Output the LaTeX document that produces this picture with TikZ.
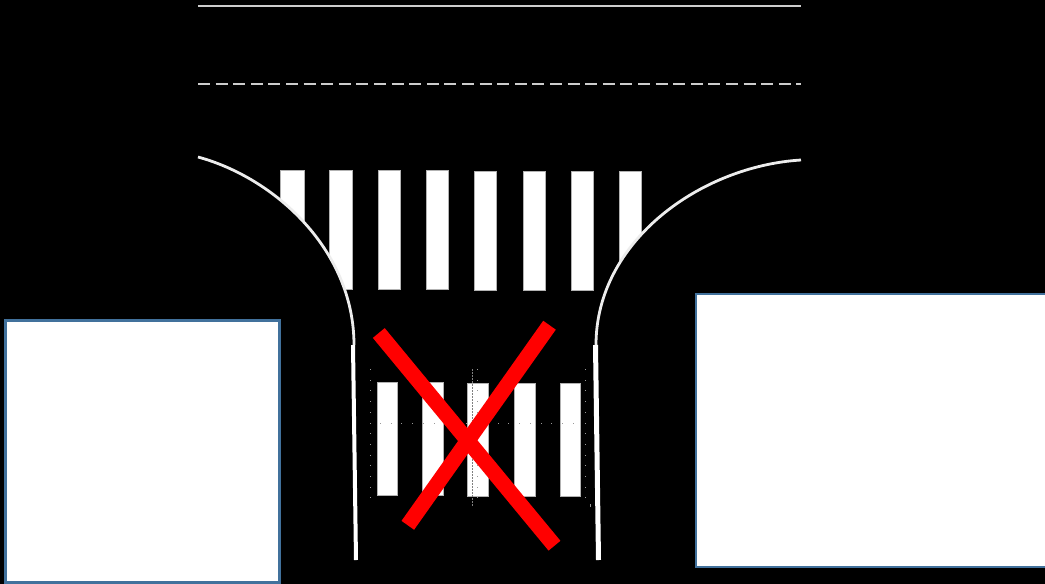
\documentclass[tikz,border=0pt]{standalone}
\tikzset{
  road/.style={draw=white!80!black,line width=2pt},
  kerb/.style={draw=white!93!black,line width=2.8pt},
  stripe/.style={fill=white,draw=white!70!black,line width=0.5pt},
  edge/.style={draw=white,line width=4pt},
  cross/.style={draw=red,line width=15.4pt},
  panelbox/.style={fill=white,draw={rgb,255:red,65;green,113;blue,156},line width=2.6pt},
  tick/.style={fill=white!60!black}
}
\begin{document}
\begin{tikzpicture}[x=1pt,y=-1pt]
\useasboundingbox (0,0) rectangle (1045,584);
\fill[black] (0,0) rectangle (1045,584);
% road markings
\draw[road] (198,6) -- (801,6);
\draw[road,dash pattern=on 12pt off 5.6pt] (198,83.5) -- (801,83.5);
% upper crossing
\foreach \a/\b/\t/\e in {280.3/304/170/289.8,329.6/352.7/170/289.3,378/400.7/170/289.3,425.8/448.7/170/289.3,474/496.7/171.5/290.3,523.6/545.7/171/290.3,571.3/593.7/171/290.3,619.3/641.7/171/289.8}
  \draw[stripe] (\a,\t) rectangle (\b,\e);
% black masks beyond the kerbs
\fill[black] (198,157) .. controls (275,178) and (354,250) .. (354,345) -- (198,345) -- cycle;
\fill[black] (801,160) .. controls (702,166) and (596,240) .. (596,345) -- (801,345) -- cycle;
\draw[kerb] (198,157) .. controls (275,178) and (354,250) .. (354,345);
\draw[kerb] (801,160) .. controls (702,166) and (596,240) .. (596,345);
% lower crossing
\foreach \a/\b/\t/\e in {377/397.7/381.9/494.8,422.3/443.2/381.9/494.8,467.3/488.7/383.2/495.8,514.3/535.7/383.2/495.8,559.8/580.7/383.2/495.8}
  \draw[stripe] (\a,\t) rectangle (\b,\e);
% faint guide dots
\foreach \i in {0,...,12} {
  \fill[tick] (369.5,369+10.7*\i) rectangle +(1,1);
  \fill[tick] (585,369+10.7*\i) rectangle +(1,1);
  \fill[tick] (477,369+10.7*\i) rectangle +(1,1);
}
\foreach \i in {0,...,18}
  \fill[tick] (380+10.7*\i,423) rectangle +(1,1);
\draw[white!50!black,line width=0.5pt,dash pattern=on 1.5pt off 1.5pt] (472.5,369) -- (472.5,506);
\draw[white!60!black,line width=0.5pt] (590.5,504) -- (590.5,507);
% lane edges
\draw[edge] (353,345) -- (356,560);
\draw[edge,line width=5pt] (595.5,345) -- (598.5,560);
% prohibition cross
\draw[cross] (378.8,333) -- (554.5,545.7);
\draw[cross] (549.5,325.2) -- (407.8,525.3);
% panels
\draw[panelbox] (5.5,320.5) rectangle (279.5,582.5);
\draw[panelbox] (696,294) rectangle (1050,567);
\end{tikzpicture}
\end{document}
